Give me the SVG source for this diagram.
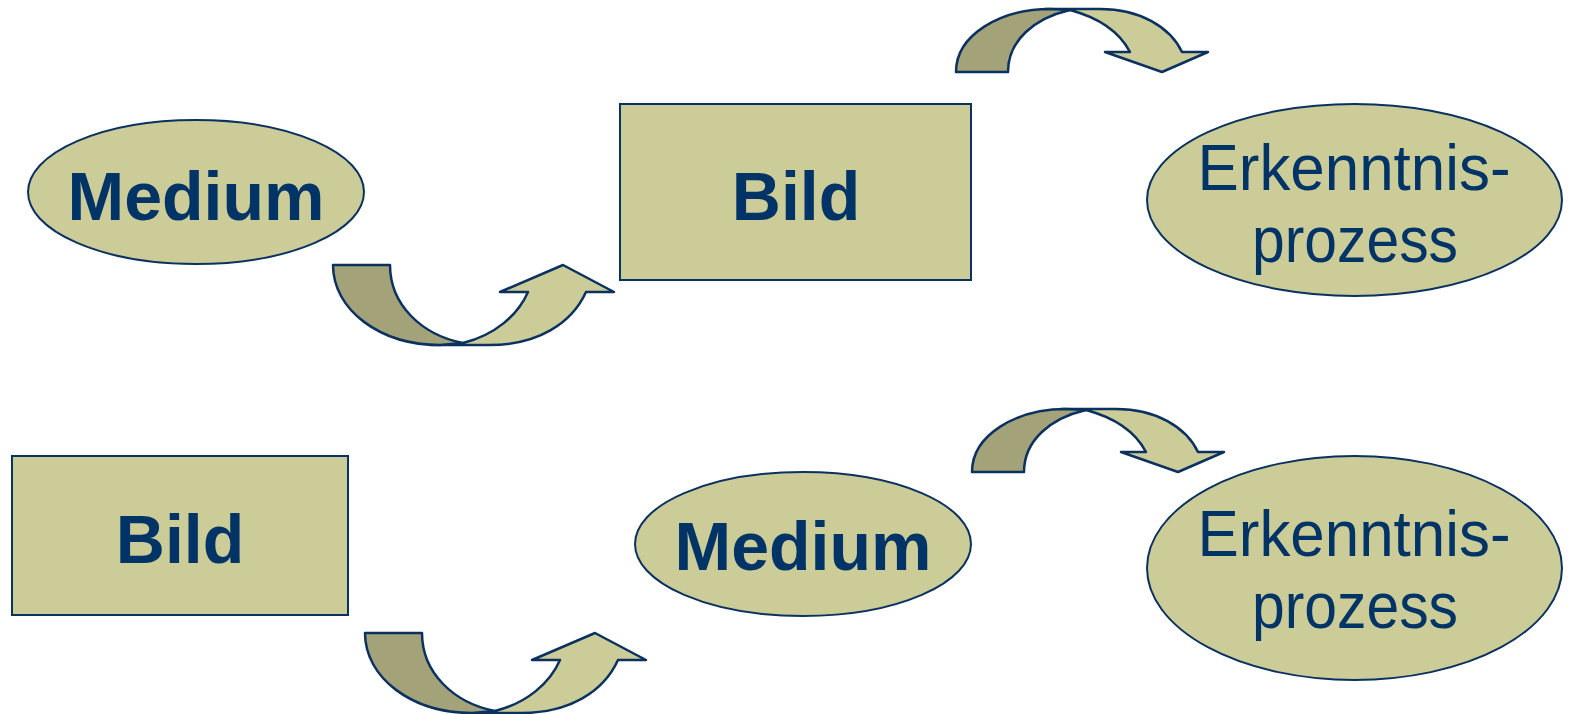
<svg xmlns="http://www.w3.org/2000/svg" width="1570" height="714" viewBox="0 0 1570 714">
<style>
.n{fill:#CCCC99;stroke:#0B3160;stroke-width:2}
.d{fill:#A3A278;stroke:#0B3160;stroke-width:2.5;stroke-linejoin:round}
.l{fill:#CCCC99;stroke:#0B3160;stroke-width:2.5;stroke-linejoin:round}
.b{font-family:"Liberation Sans",Arial,sans-serif;font-weight:bold;font-size:68px;fill:#003366;text-anchor:middle}
.r{font-family:"Liberation Sans",Arial,sans-serif;font-size:65px;fill:#003366;text-anchor:middle}
</style>
<defs>
<g id="up">
<path class="l" d="M463,343 C495,335 518,315 528,292 H500 L563,265 L614,292 H586 C572,323 538,345 490,345 H430 Z"/>
<path class="d" d="M333,265 H390 C390,305 422,335 463,343 L440,345 C380,345 333,310 333,265 Z"/>
</g>
<g id="down">
<path class="l" d="M1070,10 C1100,18 1120,33 1130,52 H1105 L1162,72 L1208,52 H1182 C1170,27 1140,9 1100,9 H1045 Z"/>
<path class="d" d="M956,72 H1008 C1008,40 1035,18 1070,10 L1050,9 C1000,9 956,35 956,72 Z"/>
</g>
</defs>
<g id="connectors">
<use href="#up"/>
<use href="#down"/>
<use href="#up" transform="translate(32,368)"/>
<use href="#down" transform="translate(16,400)"/>
</g>
<g id="medium1"><ellipse class="n" cx="196" cy="192" rx="168" ry="72"/><text class="b" x="196" y="220">Medium</text></g>
<g id="bild1"><rect class="n" x="620" y="104" width="351" height="176"/><text class="b" x="796" y="220">Bild</text></g>
<g id="erkenntnis1"><ellipse class="n" cx="1354.5" cy="200" rx="207.5" ry="96"/><text class="r" x="1354" y="190" textLength="313" lengthAdjust="spacingAndGlyphs">Erkenntnis-</text><text class="r" x="1355" y="262" textLength="206" lengthAdjust="spacingAndGlyphs">prozess</text></g>
<g id="bild2"><rect class="n" x="12" y="456" width="336" height="159"/><text class="b" x="180" y="563">Bild</text></g>
<g id="medium2"><ellipse class="n" cx="803" cy="544" rx="168" ry="72"/><text class="b" x="803" y="570">Medium</text></g>
<g id="erkenntnis2"><ellipse class="n" cx="1354.5" cy="568" rx="207.5" ry="112"/><text class="r" x="1354" y="556" textLength="313" lengthAdjust="spacingAndGlyphs">Erkenntnis-</text><text class="r" x="1355" y="628" textLength="206" lengthAdjust="spacingAndGlyphs">prozess</text></g>
</svg>
